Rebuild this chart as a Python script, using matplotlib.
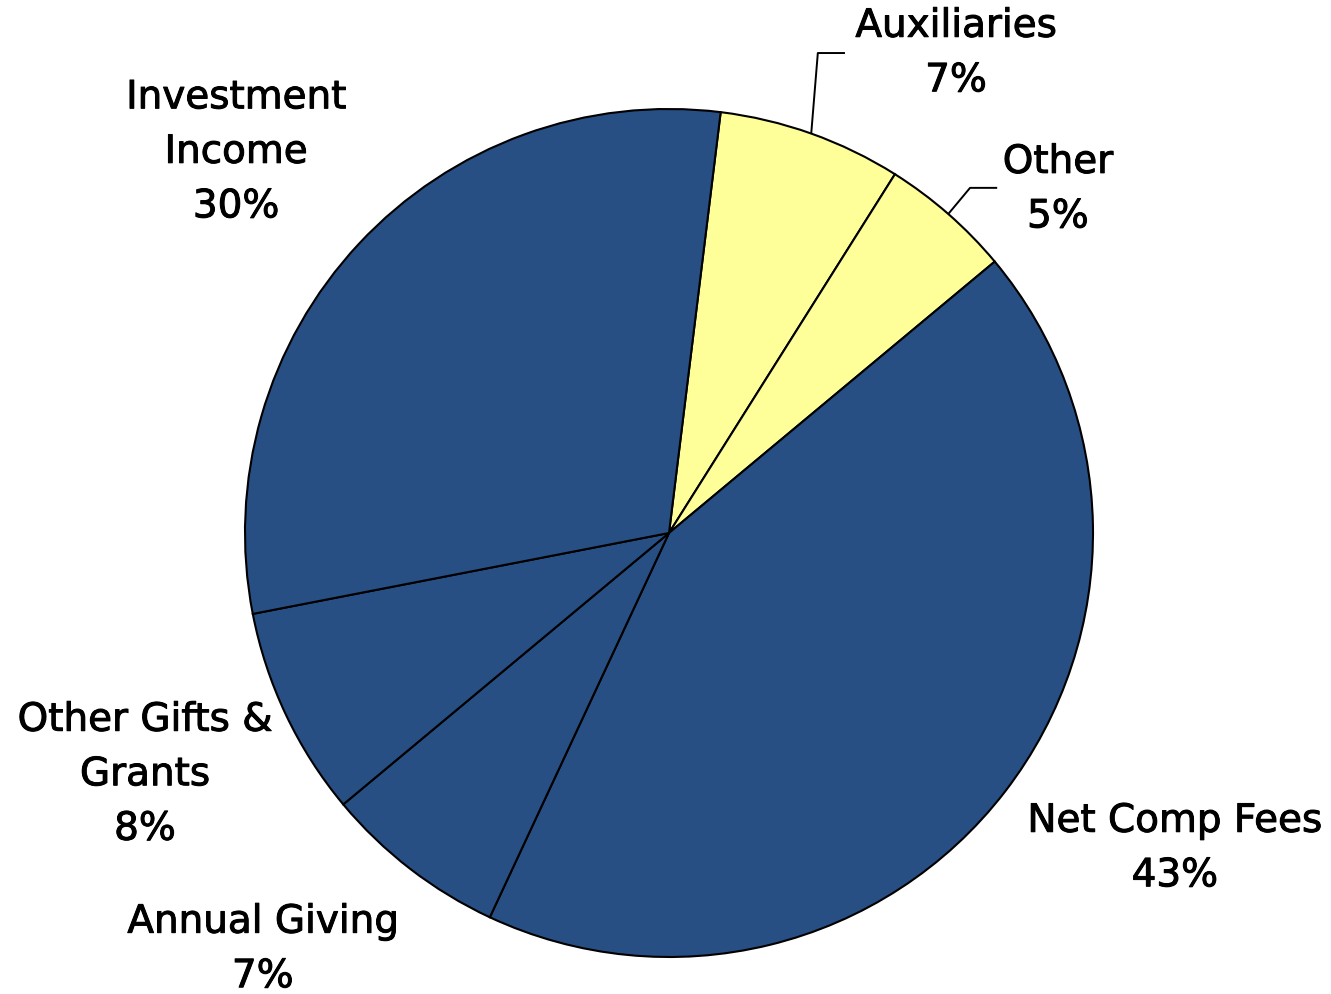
import matplotlib
matplotlib.use("Agg")
import matplotlib.pyplot as plt
import matplotlib.patheffects as pe
import numpy as np

labels = ["Auxiliaries", "Other", "Net Comp Fees", "Annual Giving",
          "Other Gifts &\nGrants", "Investment\nIncome"]
values = [7, 5, 43, 7, 8, 30]
colors = ["#FFFF99", "#FFFF99", "#274F84", "#274F84", "#274F84", "#274F84"]

# label text positions (data units, pie radius = 1)
label_pos = [(0.677, 1.132), (0.917, 0.811), (1.193, -0.743),
             (-0.958, -0.981), (-1.236, -0.569), (-1.021, 0.899)]
# leader line elbows for the small slices
leaders = {0: [(0.351, 1.132), (0.415, 1.132)],
           1: [(0.710, 0.814), (0.774, 0.814)]}

W, H = 1331, 995
cx, cy, R = 669, 534, 424
fig = plt.figure(figsize=(W / 100, H / 100), dpi=100)
ax = fig.add_axes([0, 0, 1, 1])

wedges, _ = ax.pie(values, colors=colors, startangle=83, counterclock=False,
                   radius=1, center=(0, 0), frame=True,
                   wedgeprops=dict(edgecolor="black", linewidth=1.5))
ax.set_xlim(-cx / R, (W - cx) / R)
ax.set_ylim(-(H - cy) / R, cy / R)
ax.set_aspect("equal")
ax.axis("off")

for i, (w, lab, v) in enumerate(zip(wedges, labels, values)):
    x, y = label_pos[i]
    ax.text(x, y, f"{lab}\n{v}%", ha="center", va="center", fontsize=28,
            family="DejaVu Sans", linespacing=1.55, color="black",
            path_effects=[pe.withStroke(linewidth=0.7, foreground="black")])
    if i in leaders:
        ang = np.deg2rad((w.theta1 + w.theta2) / 2)
        pts = [(np.cos(ang), np.sin(ang))] + leaders[i]
        xs, ys = zip(*pts)
        ax.plot(xs, ys, color="black", lw=1.4, solid_capstyle="butt")

fig.savefig("out.png", dpi=100)
